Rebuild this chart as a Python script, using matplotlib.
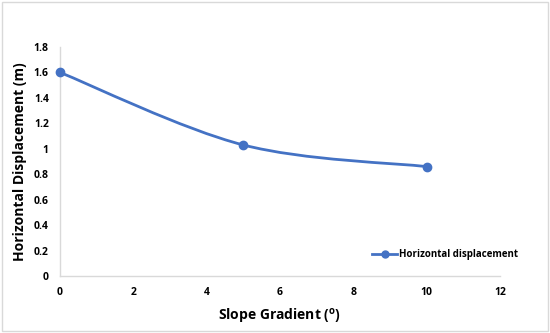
import matplotlib
matplotlib.use("Agg")
import matplotlib.pyplot as plt
from matplotlib.path import Path
from matplotlib.patches import PathPatch, Rectangle
from matplotlib.lines import Line2D

# data
slope = [0, 5, 10]
disp = [1.6, 1.03, 0.86]
x_ticks = [0, 2, 4, 6, 8, 10, 12]
y_ticks = [0, 0.2, 0.4, 0.6, 0.8, 1, 1.2, 1.4, 1.6, 1.8]
y_labels = ["0", "0.2", "0.4", "0.6", "0.8", "1", "1.2", "1.4", "1.6", "1.8"]

BLUE = "#4472C4"
plt.rcParams["font.family"] = ["Open Sans", "DejaVu Sans"]

fig = plt.figure(figsize=(5.5, 3.33), dpi=100)
ax = fig.add_axes([0.109, 0.171, 0.8, 0.688])
fig.patches.append(Rectangle((0.004, 0.006), 0.992, 0.988, transform=fig.transFigure,
                             fill=False, edgecolor="#d9d9d9", linewidth=1))


def smooth_path(xs, ys, t=1/6):
    """Excel-like smoothed line as cubic Bezier segments."""
    pts = list(zip(xs, ys))
    verts = [pts[0]]
    codes = [Path.MOVETO]
    for i in range(len(pts) - 1):
        p0 = pts[i - 1] if i > 0 else pts[i]
        p1, p2 = pts[i], pts[i + 1]
        p3 = pts[i + 2] if i + 2 < len(pts) else pts[i + 1]
        c1 = (p1[0] + (p2[0] - p0[0]) * t, p1[1] + (p2[1] - p0[1]) * t)
        c2 = (p2[0] - (p3[0] - p1[0]) * t, p2[1] - (p3[1] - p1[1]) * t)
        verts += [c1, c2, p2]
        codes += [Path.CURVE4] * 3
    return Path(verts, codes)


ax.add_patch(PathPatch(smooth_path(slope, disp), facecolor="none",
                       edgecolor=BLUE, linewidth=2, zorder=2))
ax.plot(slope, disp, linestyle="none", marker="o", markersize=6,
        color=BLUE, zorder=3, clip_on=False)

ax.set_xlim(0, 12)
ax.set_ylim(0, 1.8)
ax.set_xticks(x_ticks)
ax.set_yticks(y_ticks)
ax.set_yticklabels(y_labels)
ax.tick_params(length=0, labelsize=7.5, pad=8)
for lab in ax.get_xticklabels() + ax.get_yticklabels():
    lab.set_fontweight("bold")

for s in ["top", "right"]:
    ax.spines[s].set_visible(False)
for s in ["left", "bottom"]:
    ax.spines[s].set_color("#d9d9d9")
    ax.spines[s].set_linewidth(1)

ax.set_xlabel("Slope Gradient ($\\mathregular{^{o}}$)", fontsize=10, fontweight="bold", labelpad=6)
ax.set_ylabel("Horizontal Displacement (m)", fontsize=10, fontweight="bold", labelpad=5)

handle = Line2D([], [], color=BLUE, linewidth=2, marker="o", markersize=5)
ax.legend([handle], ["Horizontal displacement"], loc="lower right",
          bbox_to_anchor=(1.06, 0.03), frameon=False, handlelength=2.5,
          handletextpad=0.2, prop={"weight": "bold", "size": 7})

fig.savefig("out.png", dpi=100)
